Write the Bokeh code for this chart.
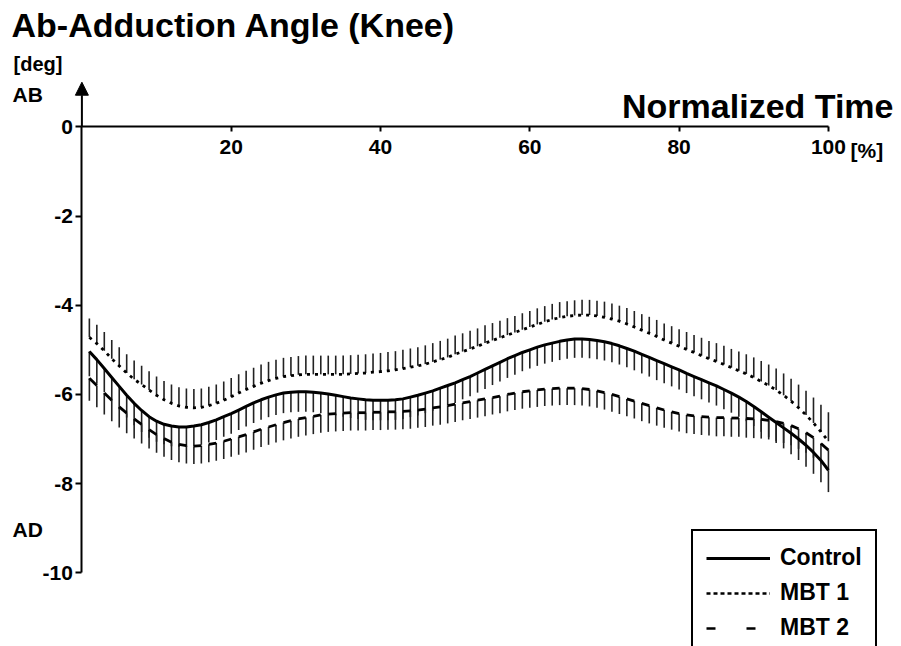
import numpy as np
from bokeh.plotting import figure
from bokeh.models import (LinearAxis, FixedTicker, Range1d, Label, Arrow, NormalHead,
                          Legend, LegendItem)
from bokeh.embed import file_html
from bokeh.resources import INLINE

# ---------------- data ----------------
pct = list(range(1, 101))

control_mean = [
    -5.04, -5.22, -5.42, -5.62, -5.82, -6.02, -6.20, -6.36, -6.50, -6.60,
    -6.67, -6.71, -6.73, -6.73, -6.71, -6.68, -6.63, -6.57, -6.50, -6.43,
    -6.35, -6.27, -6.19, -6.12, -6.06, -6.01, -5.97, -5.95, -5.94, -5.94,
    -5.95, -5.97, -5.99, -6.02, -6.05, -6.08, -6.10, -6.12, -6.13, -6.13,
    -6.13, -6.12, -6.10, -6.06, -6.02, -5.97, -5.92, -5.86, -5.80, -5.74,
    -5.67, -5.60, -5.52, -5.44, -5.36, -5.28, -5.20, -5.13, -5.06, -5.00,
    -4.94, -4.89, -4.85, -4.81, -4.78, -4.76, -4.76, -4.77, -4.79, -4.82,
    -4.86, -4.91, -4.97, -5.03, -5.10, -5.17, -5.24, -5.31, -5.38, -5.45,
    -5.53, -5.60, -5.67, -5.74, -5.81, -5.89, -5.97, -6.06, -6.16, -6.27,
    -6.39, -6.51, -6.63, -6.75, -6.87, -7.00, -7.14, -7.30, -7.48, -7.70]
control_sd = [
    0.55, 0.54, 0.53, 0.52, 0.51, 0.50, 0.49, 0.48, 0.47, 0.46,
    0.45, 0.45, 0.45, 0.45, 0.45, 0.45, 0.45, 0.45, 0.45, 0.45,
    0.45, 0.45, 0.45, 0.45, 0.45, 0.45, 0.45, 0.45, 0.45, 0.45,
    0.45, 0.45, 0.45, 0.45, 0.45, 0.45, 0.45, 0.45, 0.45, 0.45,
    0.45, 0.45, 0.45, 0.45, 0.45, 0.45, 0.45, 0.45, 0.45, 0.45,
    0.44, 0.44, 0.44, 0.44, 0.43, 0.43, 0.43, 0.43, 0.42, 0.42,
    0.42, 0.42, 0.42, 0.42, 0.42, 0.42, 0.42, 0.42, 0.42, 0.42,
    0.42, 0.42, 0.42, 0.43, 0.43, 0.43, 0.44, 0.44, 0.44, 0.44,
    0.44, 0.44, 0.44, 0.44, 0.44, 0.44, 0.44, 0.44, 0.44, 0.44,
    0.45, 0.45, 0.46, 0.46, 0.47, 0.47, 0.48, 0.48, 0.49, 0.49]

mbt1_mean = [
    -4.72, -4.86, -5.02, -5.20, -5.36, -5.52, -5.66, -5.78, -5.90, -6.02,
    -6.12, -6.20, -6.26, -6.29, -6.30, -6.29, -6.25, -6.20, -6.13, -6.05,
    -5.97, -5.89, -5.82, -5.75, -5.69, -5.64, -5.60, -5.58, -5.56, -5.55,
    -5.55, -5.55, -5.55, -5.55, -5.55, -5.54, -5.53, -5.52, -5.50, -5.49,
    -5.47, -5.45, -5.42, -5.39, -5.36, -5.32, -5.27, -5.22, -5.17, -5.10,
    -5.04, -4.98, -4.92, -4.85, -4.79, -4.73, -4.67, -4.61, -4.55, -4.49,
    -4.43, -4.37, -4.32, -4.28, -4.25, -4.23, -4.22, -4.22, -4.24, -4.27,
    -4.31, -4.36, -4.42, -4.49, -4.56, -4.63, -4.70, -4.78, -4.85, -4.92,
    -4.99, -5.06, -5.13, -5.20, -5.26, -5.33, -5.40, -5.47, -5.54, -5.62,
    -5.71, -5.80, -5.90, -6.02, -6.15, -6.30, -6.46, -6.64, -6.84, -7.05]
mbt1_sd = [
    0.42, 0.42, 0.42, 0.42, 0.42, 0.42, 0.42, 0.42, 0.42, 0.42,
    0.42, 0.42, 0.42, 0.42, 0.42, 0.42, 0.42, 0.42, 0.42, 0.42,
    0.42, 0.42, 0.42, 0.42, 0.42, 0.42, 0.42, 0.42, 0.42, 0.42,
    0.42, 0.42, 0.42, 0.42, 0.42, 0.42, 0.42, 0.42, 0.42, 0.42,
    0.42, 0.42, 0.42, 0.42, 0.42, 0.42, 0.42, 0.42, 0.42, 0.42,
    0.41, 0.41, 0.40, 0.40, 0.39, 0.38, 0.38, 0.37, 0.37, 0.36,
    0.36, 0.35, 0.35, 0.35, 0.34, 0.34, 0.34, 0.34, 0.34, 0.35,
    0.35, 0.35, 0.36, 0.36, 0.36, 0.37, 0.37, 0.37, 0.38, 0.38,
    0.39, 0.39, 0.40, 0.40, 0.41, 0.42, 0.42, 0.43, 0.44, 0.45,
    0.46, 0.47, 0.48, 0.49, 0.50, 0.52, 0.54, 0.57, 0.61, 0.65]

mbt2_mean = [
    -5.64, -5.80, -5.97, -6.13, -6.28, -6.42, -6.55, -6.67, -6.79, -6.90,
    -6.99, -7.07, -7.12, -7.15, -7.16, -7.15, -7.12, -7.09, -7.05, -7.00,
    -6.95, -6.90, -6.84, -6.78, -6.73, -6.68, -6.63, -6.59, -6.55, -6.52,
    -6.49, -6.46, -6.44, -6.43, -6.42, -6.41, -6.41, -6.41, -6.40, -6.40,
    -6.39, -6.39, -6.38, -6.37, -6.35, -6.33, -6.30, -6.28, -6.25, -6.22,
    -6.19, -6.16, -6.13, -6.10, -6.07, -6.04, -6.00, -5.97, -5.94, -5.92,
    -5.90, -5.88, -5.87, -5.86, -5.86, -5.86, -5.87, -5.89, -5.92, -5.96,
    -6.00, -6.05, -6.10, -6.15, -6.20, -6.25, -6.30, -6.35, -6.39, -6.43,
    -6.46, -6.48, -6.50, -6.51, -6.52, -6.52, -6.53, -6.53, -6.54, -6.55,
    -6.56, -6.58, -6.61, -6.65, -6.70, -6.77, -6.86, -6.97, -7.10, -7.25]
mbt2_sd = [
    0.50, 0.49, 0.48, 0.47, 0.46, 0.45, 0.44, 0.43, 0.42, 0.41,
    0.41, 0.40, 0.40, 0.40, 0.40, 0.40, 0.40, 0.40, 0.40, 0.40,
    0.40, 0.40, 0.40, 0.40, 0.40, 0.40, 0.40, 0.40, 0.40, 0.40,
    0.40, 0.40, 0.40, 0.40, 0.40, 0.40, 0.40, 0.40, 0.40, 0.40,
    0.40, 0.40, 0.40, 0.40, 0.40, 0.40, 0.40, 0.40, 0.40, 0.40,
    0.39, 0.39, 0.39, 0.39, 0.38, 0.38, 0.38, 0.38, 0.38, 0.38,
    0.38, 0.38, 0.38, 0.38, 0.38, 0.38, 0.38, 0.38, 0.38, 0.38,
    0.39, 0.39, 0.39, 0.39, 0.40, 0.40, 0.40, 0.40, 0.40, 0.40,
    0.41, 0.41, 0.41, 0.41, 0.42, 0.42, 0.42, 0.42, 0.43, 0.43,
    0.43, 0.43, 0.44, 0.44, 0.44, 0.45, 0.45, 0.45, 0.45, 0.45]

x_ticks = [20, 40, 60, 80, 100]
y_ticks = [0, -2, -4, -6, -8, -10]
y_tick_labels = ["0", "-2", "-4", "-6", "-8", "-10"]
series_labels = ["Control", "MBT 1", "MBT 2"]

# ---------------- figure ----------------
W, H = 901, 646
FONT = "Liberation Sans"
BAR = "#222222"

p = figure(width=W, height=H, output_backend="svg", toolbar_location=None,
           x_range=Range1d(-10.904, 109.79), y_range=Range1d(-11.652, 2.832),
           x_axis_type=None, y_axis_type=None, min_border=0,
           outline_line_color=None, background_fill_color="white",
           border_fill_color="white")

t = np.array(pct, dtype=float)
cm, cs = np.array(control_mean), np.array(control_sd)
m1, s1 = np.array(mbt1_mean), np.array(mbt1_sd)
m2, s2 = np.array(mbt2_mean), np.array(mbt2_sd)

# error bars: control & MBT 2 downward, MBT 1 upward
p.segment(x0=t, y0=cm, x1=t, y1=cm - cs, line_color=BAR, line_width=1.6)
p.segment(x0=t, y0=m2, x1=t, y1=m2 - s2, line_color=BAR, line_width=1.6)
p.segment(x0=t, y0=m1, x1=t, y1=m1 + s1, line_color=BAR, line_width=1.6)

# mean curves
p.line(t, cm, line_color="black", line_width=3)
p.line(t, m1, line_color="black", line_width=2.8, line_dash="3 5")
p.segment(x0=t[0::2], y0=m2[0::2], x1=t[1::2], y1=m2[1::2],
          line_color="black", line_width=2.8)

# axes through the origin
xa = LinearAxis(fixed_location=0, bounds=(0, 100), ticker=FixedTicker(ticks=x_ticks))
xa.axis_line_width = 2
xa.major_tick_line_width = 2
xa.major_tick_out = 5
xa.major_tick_in = 0
xa.minor_tick_line_color = None
xa.major_label_standoff = 8
xa.major_label_text_font = FONT
xa.major_label_text_font_style = "bold"
xa.major_label_text_font_size = "21px"
xa.major_label_text_color = "black"
p.add_layout(xa, "below")

ya = LinearAxis(fixed_location=0, bounds=(-10, 0), ticker=FixedTicker(ticks=y_ticks))
ya.axis_line_width = 2
ya.major_tick_line_width = 2
ya.major_tick_out = 6
ya.major_tick_in = 0
ya.minor_tick_line_color = None
ya.major_label_standoff = 3
ya.major_label_overrides = dict(zip(y_ticks, y_tick_labels))
ya.major_label_text_font = FONT
ya.major_label_text_font_style = "bold"
ya.major_label_text_font_size = "21px"
ya.major_label_text_color = "black"
p.add_layout(ya, "left")

p.add_layout(Arrow(end=NormalHead(size=13, fill_color="black", line_color="black", line_width=1),
                   x_start=0, y_start=0, x_end=0, y_end=1.0,
                   line_color="black", line_width=2))

def lab(text, x, y_mid_px, size, align="left"):
    p.add_layout(Label(x=x, y=H - y_mid_px, x_units="screen", y_units="screen",
                       text=text, text_font=FONT, text_font_style="bold",
                       text_font_size=size, text_color="black",
                       text_align=align, text_baseline="middle"))

lab("Ab-Adduction Angle (Knee)", 11, 24, "34px")
lab("[deg]", 13, 63, "20px")
lab("AB", 12, 94, "21px")
lab("AD", 12, 529, "21px")
lab("Normalized Time", 893, 105, "34px", align="right")
lab("[%]", 850, 150, "21px")

# legend (sample glyphs only; their data lie outside the visible ranges)
hid_x = [-100, -99]
hid_y = [-100, -100]
r_c = p.line(x=hid_x, y=hid_y, line_color="black", line_width=3)
r_1 = p.line(x=hid_x, y=hid_y, line_color="black", line_width=2.6, line_dash="4 3")
r_2 = p.line(x=hid_x, y=hid_y, line_color="black", line_width=2.6, line_dash="9 31")
legend = Legend(items=[LegendItem(label=series_labels[0], renderers=[r_c]),
                       LegendItem(label=series_labels[1], renderers=[r_1]),
                       LegendItem(label=series_labels[2], renderers=[r_2])],
                location=(691, -10), orientation="vertical",
                glyph_width=64, glyph_height=22, label_height=22,
                label_standoff=10, padding=13, spacing=8, margin=0,
                border_line_color="black", border_line_width=2, border_line_alpha=1,
                background_fill_color="white", background_fill_alpha=1,
                label_text_font=FONT, label_text_font_style="bold",
                label_text_font_size="23px", label_text_color="black")
p.add_layout(legend)

open("out.html", "w").write(file_html(p, INLINE))
